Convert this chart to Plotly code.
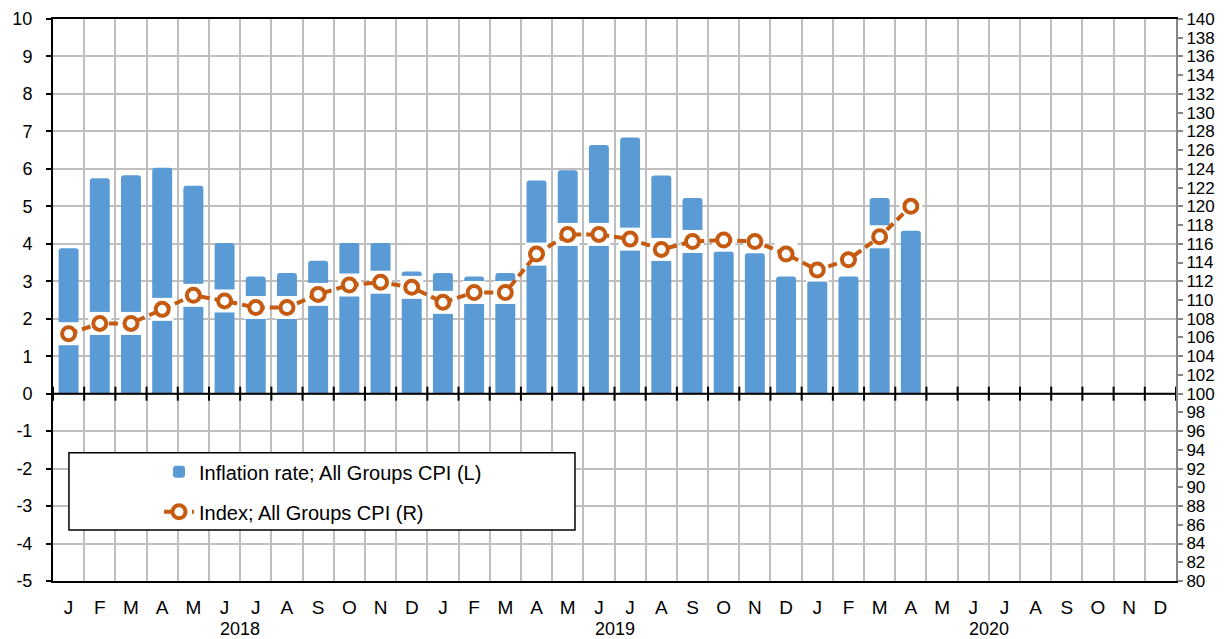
import plotly.graph_objects as go

months = ["J", "F", "M", "A", "M", "J", "J", "A", "S", "O", "N", "D"] * 3
years = ["2018", "2019", "2020"]
inflation = [3.88, 5.75, 5.83, 6.03, 5.55, 4.02, 3.13, 3.22, 3.55, 4.02, 4.02, 3.26,
             3.22, 3.13, 3.22, 5.69, 5.96, 6.64, 6.84, 5.82, 5.22, 3.80, 3.75, 3.13,
             3.00, 3.13, 5.22, 4.35]
cpi_index = [106.4, 107.5, 107.5, 109.0, 110.5, 109.9, 109.2, 109.2, 110.6, 111.6, 111.9, 111.35,
             109.75, 110.8, 110.8, 114.9, 117.0, 117.0, 116.5, 115.4, 116.25, 116.4, 116.25, 114.9,
             113.2, 114.3, 116.75, 120.0]
left_ticks = list(range(-5, 11))
left_labels = [str(v) for v in left_ticks]
right_ticks = list(range(80, 141, 2))
right_labels = [str(v) for v in right_ticks]

n_months = len(months)
x_all = list(range(n_months))
x_data = x_all[:len(inflation)]
boundaries = [i - 0.5 for i in range(n_months + 1)]
year_centers = [12 * k + 5.5 for k in range(len(years))]

FONT = "Liberation Sans, Arial, sans-serif"
GRID = "#BFBFBF"

fig = go.Figure()
fig.add_trace(go.Bar(
    x=x_data, y=inflation, name="Inflation rate; All Groups CPI (L)",
    marker=dict(color="#5B9BD5", cornerradius=3, line=dict(width=0)),
    width=0.64, legendgroup="a", hoverinfo="skip"))
# horizontal axis crossing at zero with tick marks
fig.add_trace(go.Scatter(
    x=boundaries, y=[0] * len(boundaries), mode="lines+markers",
    line=dict(color="black", width=2),
    marker=dict(symbol="line-ns", size=10, line=dict(color="black", width=2)),
    showlegend=False, hoverinfo="skip", cliponaxis=False))
# white halo behind markers
fig.add_trace(go.Scatter(
    x=x_data, y=cpi_index, yaxis="y2", mode="markers",
    marker=dict(symbol="square", size=23, color="white"),
    showlegend=False, hoverinfo="skip"))
fig.add_trace(go.Scatter(
    x=x_data, y=cpi_index, yaxis="y2", mode="lines+markers",
    name="Index; All Groups CPI (R)",
    line=dict(color="#C55A11", width=4, dash="9px,5px"),
    marker=dict(symbol="circle", size=13, color="white", line=dict(color="#C55A11", width=4)),
    legendgroup="b", hoverinfo="skip"))

for yr, xc in zip(years, year_centers):
    fig.add_annotation(x=xc, xref="x", y=-0.0855, yref="paper", text=yr, showarrow=False,
                       font=dict(size=18, color="black", family=FONT), yanchor="middle")

# legend box
fig.add_shape(type="rect", xref="paper", yref="paper", x0=0.0142, x1=0.4648, y0=0.0907, y1=0.2283,
              line=dict(color="black", width=1.5), fillcolor="white", layer="above")

# page body has an 8px margin: size the figure so the plot lands where the reference has it
fig.update_layout(
    width=1220, height=631,
    margin=dict(l=45, r=52, t=11, b=58, autoexpand=False),
    paper_bgcolor="white", plot_bgcolor="white",
    font=dict(family=FONT, color="black", size=18),
    showlegend=True,
    legend=dict(x=0.0944, y=0.229, xanchor="left", yanchor="top", bgcolor="rgba(0,0,0,0)",
                borderwidth=0, font=dict(size=20, family=FONT), traceorder="grouped",
                tracegroupgap=11),
    xaxis=dict(range=[-0.5, n_months - 0.5], tickmode="array", tickvals=x_all, ticktext=months,
               showgrid=False, zeroline=False, showline=True, linecolor="black", linewidth=2,
               mirror=True, ticks="", ticklabelstandoff=8, tickfont=dict(size=19),
               automargin=False),
    yaxis=dict(range=[-5, 10], tickmode="array", tickvals=left_ticks, ticktext=left_labels,
               showgrid=True, gridcolor=GRID, gridwidth=2,
               zeroline=False, showline=True, linecolor="black", linewidth=2,
               ticks="outside", ticklen=5, tickwidth=2, tickcolor="black",
               ticklabelstandoff=10, tickfont=dict(size=18), automargin=False),
    yaxis2=dict(range=[80, 140], tickmode="array", tickvals=right_ticks, ticktext=right_labels,
                overlaying="y", side="right", showgrid=False,
                zeroline=False, showline=True, linecolor="#868686", linewidth=2,
                ticks="outside", ticklen=5, tickwidth=2, tickcolor="#868686",
                tickfont=dict(size=17), automargin=False),
)
fig.update_xaxes(minor=dict(tickmode="array", tickvals=boundaries, showgrid=True, gridcolor=GRID,
                            gridwidth=2, ticks=""))

fig.write_html("out.html")
